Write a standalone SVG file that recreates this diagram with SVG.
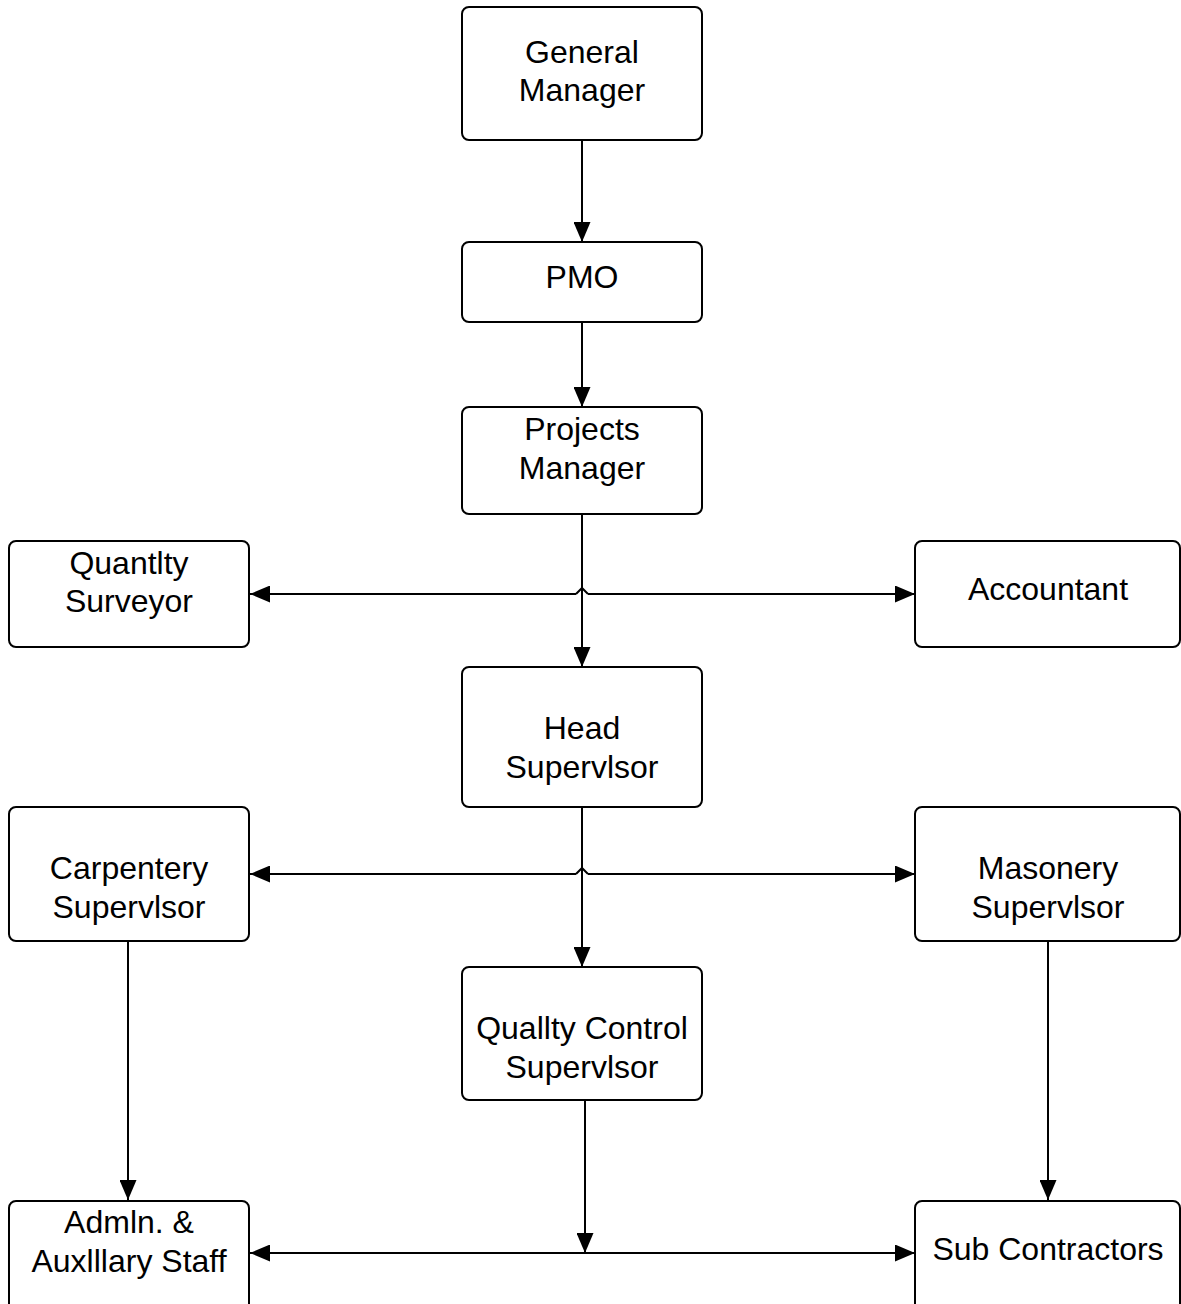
<svg xmlns="http://www.w3.org/2000/svg" width="1181" height="1304" viewBox="0 0 1181 1304">
<style>
.box{fill:#fff;stroke:#000;stroke-width:2}
.t{font-family:"Liberation Sans",Arial,sans-serif;font-size:32px;fill:#000;text-anchor:middle}
.c{fill:none;stroke:#000;stroke-width:2}
</style>
<defs>
<marker id="ah" viewBox="0 0 20 17" refX="20" refY="8.5" markerWidth="20" markerHeight="17" markerUnits="userSpaceOnUse" orient="auto">
<path d="M0,0 L20,8.5 L0,17 Z" fill="#000"/>
</marker>
</defs>
<rect width="1181" height="1304" fill="#fff"/>
<g id="connectors">
<path class="c" d="M582,140 V242" marker-end="url(#ah)"/>
<path class="c" d="M582,322 V407" marker-end="url(#ah)"/>
<path class="c" d="M582,514 V667" marker-end="url(#ah)"/>
<path class="c" d="M576,594 H250" marker-end="url(#ah)"/>
<path class="c" d="M588,594 H915" marker-end="url(#ah)"/>
<path class="c" d="M576,594 L582,588 L588,594"/>
<path class="c" d="M582,807 V967" marker-end="url(#ah)"/>
<path class="c" d="M576,874 H250" marker-end="url(#ah)"/>
<path class="c" d="M588,874 H915" marker-end="url(#ah)"/>
<path class="c" d="M576,874 L582,868 L588,874"/>
<path class="c" d="M128,941 V1200" marker-end="url(#ah)"/>
<path class="c" d="M1048,941 V1200" marker-end="url(#ah)"/>
<path class="c" d="M585,1100 V1253" marker-end="url(#ah)"/>
<path class="c" d="M585,1253 H250" marker-end="url(#ah)"/>
<path class="c" d="M585,1253 H915" marker-end="url(#ah)"/>
</g>
<g id="general-manager"><rect class="box" x="462" y="7" width="240" height="133" rx="7"/><text class="t" x="582" y="63">General</text><text class="t" x="582" y="101">Manager</text></g>
<g id="pmo"><rect class="box" x="462" y="242" width="240" height="80" rx="7"/><text class="t" x="582" y="288">PMO</text></g>
<g id="projects-manager"><rect class="box" x="462" y="407" width="240" height="107" rx="7"/><text class="t" x="582" y="440">Projects</text><text class="t" x="582" y="479">Manager</text></g>
<g id="quantity-surveyor"><rect class="box" x="9" y="541" width="240" height="106" rx="7"/><text class="t" x="129" y="574">Quantlty</text><text class="t" x="129" y="612">Surveyor</text></g>
<g id="accountant"><rect class="box" x="915" y="541" width="265" height="106" rx="7"/><text class="t" x="1048" y="600">Accountant</text></g>
<g id="head-supervisor"><rect class="box" x="462" y="667" width="240" height="140" rx="7"/><text class="t" x="582" y="739">Head</text><text class="t" x="582" y="778">Supervlsor</text></g>
<g id="carpentery-supervisor"><rect class="box" x="9" y="807" width="240" height="134" rx="7"/><text class="t" x="129" y="879">Carpentery</text><text class="t" x="129" y="918">Supervlsor</text></g>
<g id="masonery-supervisor"><rect class="box" x="915" y="807" width="265" height="134" rx="7"/><text class="t" x="1048" y="879">Masonery</text><text class="t" x="1048" y="918">Supervlsor</text></g>
<g id="quality-control-supervisor"><rect class="box" x="462" y="967" width="240" height="133" rx="7"/><text class="t" x="582" y="1039">Quallty Control</text><text class="t" x="582" y="1078">Supervlsor</text></g>
<g id="admin-staff"><rect class="box" x="9" y="1201" width="240" height="120" rx="7"/><text class="t" x="129" y="1233">Admln. &amp;</text><text class="t" x="129" y="1272">Auxlllary Staff</text></g>
<g id="sub-contractors"><rect class="box" x="915" y="1201" width="265" height="120" rx="7"/><text class="t" x="1048" y="1260">Sub Contractors</text></g>
</svg>
